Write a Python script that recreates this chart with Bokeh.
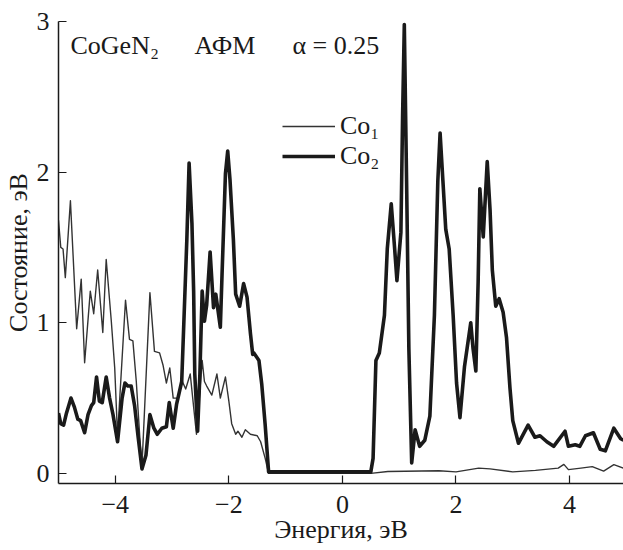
from bokeh.plotting import figure
from bokeh.models import Range1d, FixedTicker, Label, Legend, LegendItem
from bokeh.embed import file_html
from bokeh.resources import INLINE

# ---- data ----
co1_energy = [-5.00, -4.96, -4.92, -4.88, -4.79, -4.68, -4.60, -4.54, -4.44, -4.38,
              -4.31, -4.22, -4.16, -4.07, -4.01, -3.96, -3.82, -3.75, -3.69, -3.63,
              -3.57, -3.53, -3.39, -3.31, -3.22, -3.16, -3.10, -3.04, -2.98, -2.90,
              -2.83, -2.76, -2.68, -2.62, -2.57, -2.52, -2.47, -2.43, -2.39, -2.30,
              -2.21, -2.15, -2.06, -2.00, -1.95, -1.88, -1.84, -1.77, -1.71, -1.62,
              -1.50, -1.44, -1.36, -1.30, 0.50, 0.80, 1.70, 2.00, 2.40, 2.60,
              3.00, 3.40, 3.80, 3.90, 3.98, 4.20, 4.40, 4.60, 4.78, 4.95]
co1_dos = [1.68, 1.50, 1.49, 1.30, 1.81, 0.96, 1.29, 0.735, 1.21, 1.06,
           1.35, 0.935, 1.42, 1.01, 0.70, 0.25, 1.15, 0.89, 0.88, 0.61,
           0.25, 0.05, 1.20, 0.81, 0.80, 0.72, 0.60, 0.70, 0.50, 0.50,
           0.62, 0.56, 0.66, 0.44, 0.26, 0.50, 0.75, 0.61, 0.58, 0.52,
           0.66, 0.50, 0.64, 0.48, 0.33, 0.26, 0.28, 0.24, 0.29, 0.26,
           0.25, 0.21, 0.10, 0.00, 0.00, 0.013, 0.018, 0.01, 0.035, 0.03,
           0.01, 0.02, 0.035, 0.06, 0.025, 0.035, 0.045, 0.015, 0.058, 0.035]

co2_energy = [-5.00, -4.96, -4.91, -4.86, -4.78, -4.72, -4.66, -4.61, -4.54, -4.48,
              -4.42, -4.38, -4.33, -4.28, -4.23, -4.16, -4.10, -4.04, -3.96, -3.88,
              -3.83, -3.78, -3.72, -3.66, -3.60, -3.53, -3.46, -3.39, -3.32, -3.26,
              -3.18, -3.10, -3.05, -2.98, -2.92, -2.83, -2.74, -2.70, -2.65, -2.62,
              -2.60, -2.55, -2.51, -2.47, -2.43, -2.39, -2.33, -2.27, -2.23, -2.15,
              -2.12, -2.06, -2.02, -1.98, -1.92, -1.88, -1.81, -1.74, -1.68, -1.62,
              -1.58, -1.56, -1.47, -1.42, -1.36, -1.30, 0.50, 0.54, 0.59, 0.65,
              0.74, 0.79, 0.86, 0.92, 0.96, 1.03, 1.06, 1.09, 1.13, 1.17,
              1.22, 1.28, 1.36, 1.45, 1.54, 1.62, 1.68, 1.72, 1.77, 1.82,
              1.88, 1.95, 2.01, 2.07, 2.15, 2.26, 2.30, 2.35, 2.39, 2.42,
              2.48, 2.55, 2.60, 2.64, 2.70, 2.76, 2.83, 2.89, 2.95, 3.00,
              3.10, 3.27, 3.39, 3.48, 3.60, 3.72, 3.92, 3.98, 4.10, 4.18,
              4.28, 4.42, 4.54, 4.63, 4.78, 4.90, 4.95]
co2_dos = [0.40, 0.33, 0.32, 0.40, 0.50, 0.44, 0.36, 0.35, 0.27, 0.39,
           0.45, 0.47, 0.64, 0.48, 0.47, 0.64, 0.50, 0.39, 0.21, 0.50,
           0.60, 0.58, 0.58, 0.45, 0.25, 0.03, 0.12, 0.39, 0.30, 0.26,
           0.30, 0.31, 0.47, 0.30, 0.46, 0.61, 1.55, 2.06, 1.66, 1.21,
           0.66, 0.28, 0.66, 1.21, 1.01, 1.12, 1.47, 1.10, 1.19, 0.97,
           1.32, 1.99, 2.14, 1.95, 1.55, 1.19, 1.11, 1.26, 1.17, 0.93,
           0.79, 0.80, 0.75, 0.59, 0.32, 0.01, 0.01, 0.10, 0.75, 0.80,
           1.05, 1.49, 1.79, 1.49, 1.28, 1.60, 2.38, 2.98, 1.94, 0.83,
           0.07, 0.29, 0.18, 0.22, 0.38, 1.05, 1.94, 2.26, 1.94, 1.62,
           1.49, 1.05, 0.60, 0.37, 0.71, 1.00, 0.83, 0.68, 1.27, 1.89,
           1.57, 2.07, 1.75, 1.35, 1.11, 1.16, 1.07, 0.90, 0.57, 0.35,
           0.20, 0.32, 0.24, 0.25, 0.21, 0.18, 0.28, 0.18, 0.19, 0.18,
           0.25, 0.27, 0.16, 0.15, 0.30, 0.23, 0.22]

series_names = ["Co₁", "Co₂"]
x_ticks = [-4, -2, 0, 2, 4]
x_tick_labels = ["−4", "−2", "0", "2", "4"]
y_ticks = [0, 1, 2, 3]
y_tick_labels = ["0", "1", "2", "3"]
x_title = "Энергия, эВ"
y_title = "Состояние, эВ"
header_texts = ["CoGeN₂", "АФМ", "α = 0.25"]

FONT = "Liberation Serif"
FS = "26px"
INK = "#1a1a1a"

p = figure(width=623, height=546, output_backend="svg", toolbar_location=None,
           x_range=Range1d(-5, 4.95), y_range=Range1d(-0.067, 3.0),
           min_border_left=53, min_border_right=0, min_border_top=21,
           min_border_bottom=58)
p.outline_line_color = None
p.xgrid.visible = False
p.ygrid.visible = False
p.background_fill_color = "white"
p.border_fill_color = "white"

r1 = p.line(co1_energy, co1_dos, line_width=1.4, line_color="#333333",
            line_join="round")
r2 = p.line(co2_energy, co2_dos, line_width=3.6, line_color=INK,
            line_join="round")

for ax, ticks, labels in ((p.xaxis[0], x_ticks, x_tick_labels),
                          (p.yaxis[0], y_ticks, y_tick_labels)):
    ax.ticker = FixedTicker(ticks=ticks)
    ax.major_label_overrides = {t: l for t, l in zip(ticks, labels)}
    ax.minor_tick_line_color = None
    ax.major_tick_in = 8
    ax.major_tick_out = 0
    ax.major_tick_line_color = INK
    ax.major_tick_line_width = 1.2
    ax.axis_line_color = INK
    ax.axis_line_width = 1.5
    ax.major_label_text_font = FONT
    ax.major_label_text_font_size = FS
    ax.major_label_text_color = INK
    ax.axis_label_text_font = FONT
    ax.axis_label_text_font_size = FS
    ax.axis_label_text_font_style = "normal"
    ax.axis_label_text_color = INK

p.xaxis.axis_label = x_title
p.yaxis.axis_label = y_title
p.xaxis.major_label_standoff = 12
p.xaxis.axis_label_standoff = -1
p.yaxis.major_label_standoff = 9
p.yaxis.axis_label_standoff = 1

legend = Legend(items=[LegendItem(label=series_names[0], renderers=[r1]),
                       LegendItem(label=series_names[1], renderers=[r2])],
                location=(224, 312), glyph_width=53, glyph_height=30,
                label_height=30, spacing=0, padding=0, margin=0,
                label_standoff=5, border_line_color=None,
                background_fill_alpha=0, label_text_font=FONT,
                label_text_font_size=FS, label_text_color=INK)
p.add_layout(legend)

for txt, sx in zip(header_texts, [12, 136, 234]):
    p.add_layout(Label(x=sx, y=438, x_units="screen", y_units="screen",
                       text=txt, text_font=FONT, text_font_size=FS,
                       text_color=INK, text_baseline="middle"))

open("out.html", "w").write(file_html(p, INLINE))
